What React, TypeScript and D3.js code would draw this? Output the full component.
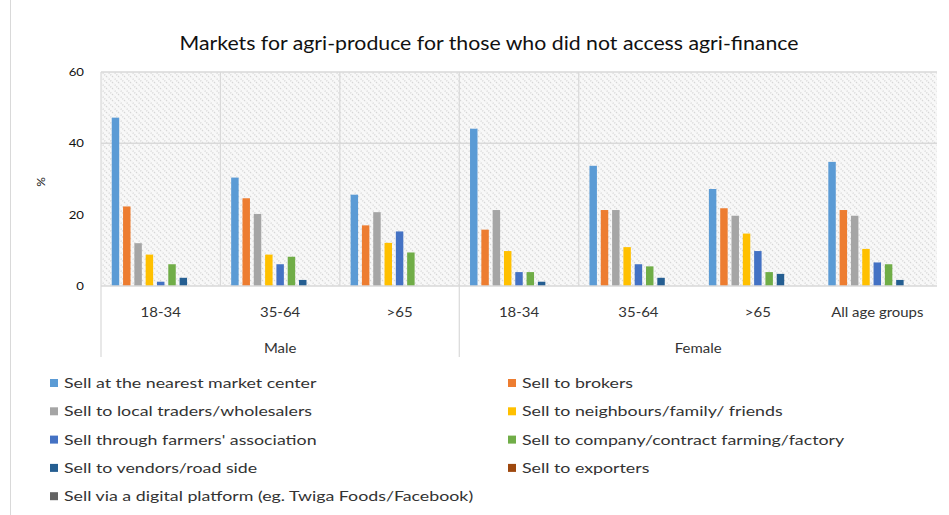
import React from "react";
import * as d3 from "d3";

const title = "Markets for agri-produce for those who did not access agri-finance";
const categories = ["18-34", "35-64", ">65", "18-34", "35-64", ">65", "All age groups"];
const groups = [
  { label: "Male", from: 0, to: 2 },
  { label: "Female", from: 3, to: 6 },
];
const seriesNames = [
  "Sell at the nearest market center",
  "Sell to brokers",
  "Sell to local traders/wholesalers",
  "Sell to neighbours/family/ friends",
  "Sell through farmers' association",
  "Sell to company/contract farming/factory",
  "Sell to vendors/road side",
  "Sell to exporters",
  "Sell via a digital platform (eg. Twiga Foods/Facebook)",
];
const colors = ["#5B9BD5", "#ED7D31", "#A5A5A5", "#FFC000", "#4472C4", "#70AD47", "#255E91", "#9E480E", "#636363"];

const nearestMarket = [47.2, 30.4, 25.6, 44.1, 33.7, 27.2, 34.8];
const brokers = [22.3, 24.6, 17.0, 15.8, 21.3, 21.8, 21.3];
const localTraders = [12.0, 20.2, 20.7, 21.3, 21.3, 19.7, 19.7];
const neighbours = [8.8, 8.8, 12.1, 9.8, 10.9, 14.7, 10.4];
const farmersAssoc = [1.2, 6.1, 15.3, 3.9, 6.1, 9.8, 6.6];
const company = [6.1, 8.2, 9.4, 3.9, 5.5, 3.9, 6.1];
const vendors = [2.3, 1.7, 0, 1.2, 2.3, 3.4, 1.7];
const exporters = [0, 0, 0, 0, 0, 0, 0];
const digital = [0, 0, 0, 0, 0, 0, 0];
const seriesValues = [nearestMarket, brokers, localTraders, neighbours, farmersAssoc, company, vendors, exporters, digital];
const yTicks = [0, 20, 40, 60];
const gridValues = [40, 60];

const W = 949;
const H = 515;
const plot = { left: 101, right: 937, top: 72, bottom: 286 };
const font = "Lato, 'Open Sans', sans-serif";

function SText(props: { x: number; y: number; sx: number; size: number; anchor?: string; fill?: string; children: React.ReactNode }) {
  const { x, y, sx, size, anchor = "start", fill = "#333", children } = props;
  return (
    <text
      transform={`translate(${x},${y}) scale(${sx},1)`}
      textAnchor={anchor}
      fontFamily={font}
      fontSize={size}
      fill={fill}
    >
      {children}
    </text>
  );
}

export default function App() {
  const x0 = d3.scaleBand<number>().domain(d3.range(categories.length)).range([plot.left, plot.right]).paddingInner(0).paddingOuter(0);
  const x1 = d3
    .scaleBand<number>()
    .domain(d3.range(seriesNames.length))
    .range([0, x0.bandwidth()])
    .paddingInner(0.34)
    .paddingOuter(0.95);
  const y = d3.scaleLinear().domain([0, 60]).range([plot.bottom, plot.top]);

  const legendX = [50, 508];
  const legendY0 = 383;
  const legendStep = 28.3;

  return (
    <svg width={W} height={H} style={{ position: "absolute", left: 0, top: 0, background: "#fff" }}>
      <defs>
        <pattern id="dots" width="6" height="6" patternUnits="userSpaceOnUse">
          <rect width="6" height="6" fill="#f8f8f8" />
          <path d="M-1,-1 L7,7 M-1,5 L1,7 M5,-1 L7,1" stroke="#d6d6d6" strokeWidth="1.4" strokeDasharray="1.2,1.2" />
        </pattern>
      </defs>
      <line x1={10.5} x2={10.5} y1={0} y2={H} stroke="#d9d9d9" />
      <SText x={489} y={50} sx={1.12} size={19} anchor="middle" fill="#111">
        {title}
      </SText>

      <rect x={plot.left} y={plot.top} width={plot.right - plot.left} height={plot.bottom - plot.top} fill="url(#dots)" />
      {gridValues.map((v) => (
        <line key={v} x1={plot.left} x2={plot.right} y1={y(v)} y2={y(v)} stroke="#d9d9d9" strokeWidth={1.5} />
      ))}
      {[1, 2, 3, 4].map((i) => (
        <line key={i} x1={x0(i)!} x2={x0(i)!} y1={plot.top} y2={plot.bottom} stroke="#d9d9d9" strokeWidth={1.2} />
      ))}
      <line x1={plot.left} x2={plot.left} y1={plot.top} y2={357} stroke="#d9d9d9" strokeWidth={1.2} />

      {seriesValues.map((vals, s) =>
        vals.map((v, c) =>
          v > 0 ? (
            <rect
              key={`${s}-${c}`}
              x={x0(c)! + x1(s)!}
              y={y(v)}
              width={x1.bandwidth()}
              height={y(0) - y(v)}
              fill={colors[s]}
            />
          ) : null
        )
      )}

      <line x1={plot.left} x2={plot.right} y1={plot.bottom} y2={plot.bottom} stroke="#d9d9d9" strokeWidth={1.5} />
      <line x1={x0(3)!} x2={x0(3)!} y1={plot.bottom} y2={357} stroke="#d9d9d9" strokeWidth={1.2} />

      {yTicks.map((t) => (
        <SText key={t} x={84} y={y(t) + 4} sx={1.1} size={12} anchor="end" fill="#111">
          {t}
        </SText>
      ))}
      <text x={0} y={0} transform="translate(45,182) rotate(-90)" textAnchor="middle" fontFamily={font} fontSize={12} fill="#111">
        %
      </text>

      {categories.map((c, i) => (
        <SText key={i} x={x0(i)! + x0.bandwidth() / 2} y={317} sx={1.15} size={13} anchor="middle">
          {c}
        </SText>
      ))}
      {groups.map((g) => {
        const cx = (x0(g.from)! + x0(g.to)! + x0.bandwidth()) / 2;
        return (
          <SText key={g.label} x={cx} y={353} sx={1.15} size={13} anchor="middle">
            {g.label}
          </SText>
        );
      })}

      {seriesNames.map((name, i) => {
        const col = i % 2;
        const row = Math.floor(i / 2);
        const lx = legendX[col];
        const ly = legendY0 + row * legendStep;
        return (
          <g key={name}>
            <rect x={lx} y={ly - 4} width={8} height={8} fill={colors[i]} />
            <SText x={lx + 14} y={ly + 5} sx={1.27} size={14}>
              {name}
            </SText>
          </g>
        );
      })}
    </svg>
  );
}
